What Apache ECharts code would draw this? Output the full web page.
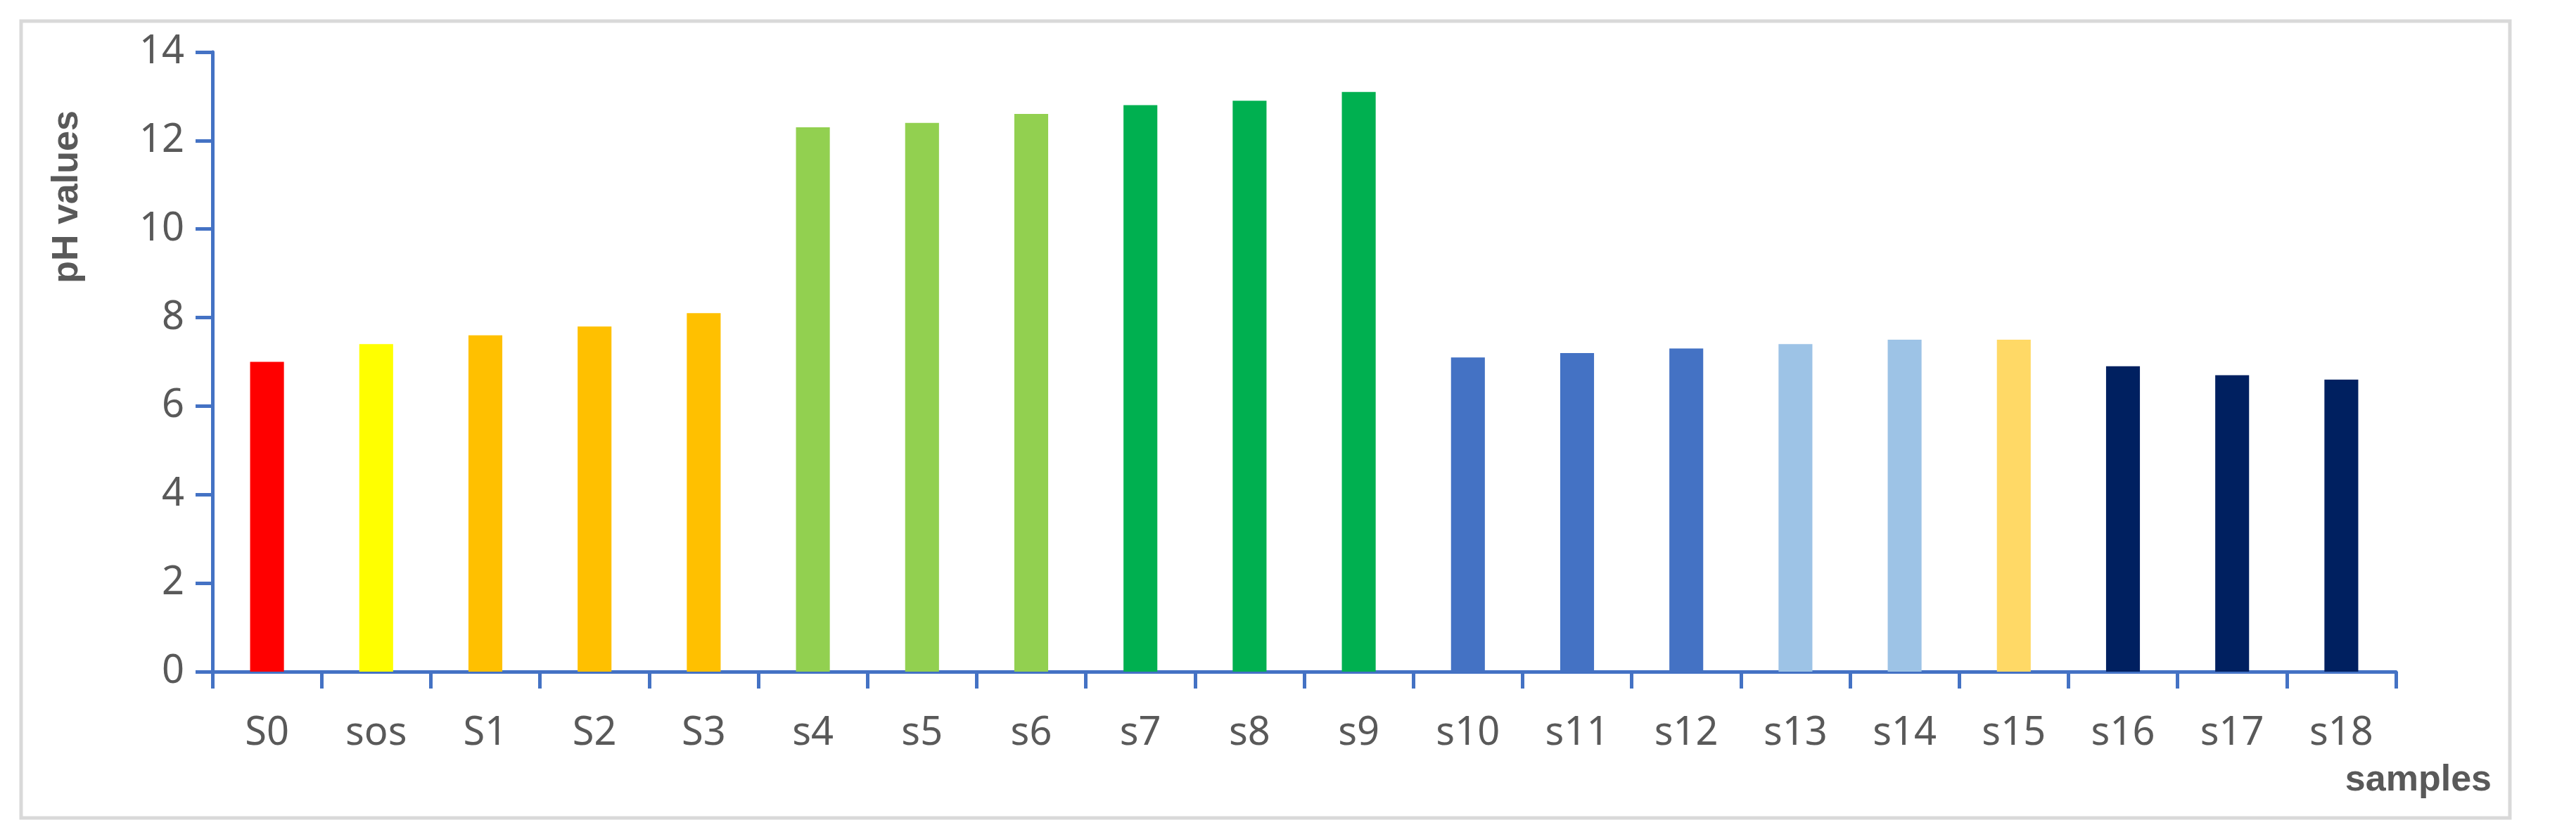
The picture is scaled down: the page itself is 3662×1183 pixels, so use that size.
<!DOCTYPE html>
<html><head><meta charset="utf-8">
<script src="https://cdn.jsdelivr.net/npm/echarts@6/dist/echarts.min.js"></script>
<style>html,body{margin:0;padding:0;background:#fff}#c{width:3662px;height:1183px}</style>
</head><body><div id="c"></div>
<script>
const categories = ['S0','sos','S1','S2','S3','s4','s5','s6','s7','s8','s9','s10','s11','s12','s13','s14','s15','s16','s17','s18'];
const phValues = [7.0,7.4,7.6,7.8,8.1,12.3,12.4,12.6,12.8,12.9,13.1,7.1,7.2,7.3,7.4,7.5,7.5,6.9,6.7,6.6];
const barColors = ['#FF0000','#FFFF00','#FFC000','#FFC000','#FFC000','#92D050','#92D050','#92D050','#00B050','#00B050','#00B050','#4472C4','#4472C4','#4472C4','#9DC3E6','#9DC3E6','#FFD966','#002060','#002060','#002060'];
const yTicks = [0,2,4,6,8,10,12,14];
const chart = echarts.init(document.getElementById('c'));
const axisColor = '#4472C4', txt = '#595959', font = '"Noto Sans", sans-serif';
chart.setOption({
  animation:false,
  graphic:[
    {type:'rect',shape:{x:30,y:30,width:3538,height:1133},style:{fill:'none',stroke:'#D9D9D9',lineWidth:5}},
    {type:'text',x:96,y:280,rotation:Math.PI/2,style:{text:'pH values',font:'bold 52px Arial, "Liberation Sans"',fill:txt,align:'center',verticalAlign:'middle'}},
    {type:'text',x:3542,y:1110,style:{text:'samples',font:'bold 52px Arial, "Liberation Sans"',fill:txt,align:'right',verticalAlign:'middle'}}
  ],
  grid:{left:302,right:3662-3406,top:74,bottom:1183-955,containLabel:false},
  xAxis:{type:'category',data:categories,
    axisLine:{lineStyle:{color:axisColor,width:5}},
    axisTick:{show:true,length:24,lineStyle:{color:axisColor,width:5}},
    axisLabel:{color:txt,fontSize:56,fontFamily:font,margin:60}},
  yAxis:{type:'value',min:0,max:14,interval:2,
    axisLine:{show:true,lineStyle:{color:axisColor,width:5}},
    axisTick:{show:true,length:24,lineStyle:{color:axisColor,width:5}},
    splitLine:{show:false},
    axisLabel:{color:txt,fontSize:56,fontFamily:font,margin:40,
      formatter:v=>yTicks.includes(v)?String(v):''}},
  series:[{type:'bar',barWidth:'31%',
    data:phValues.map((v,i)=>({value:v,itemStyle:{color:barColors[i]}}))}]
});
</script></body></html>
